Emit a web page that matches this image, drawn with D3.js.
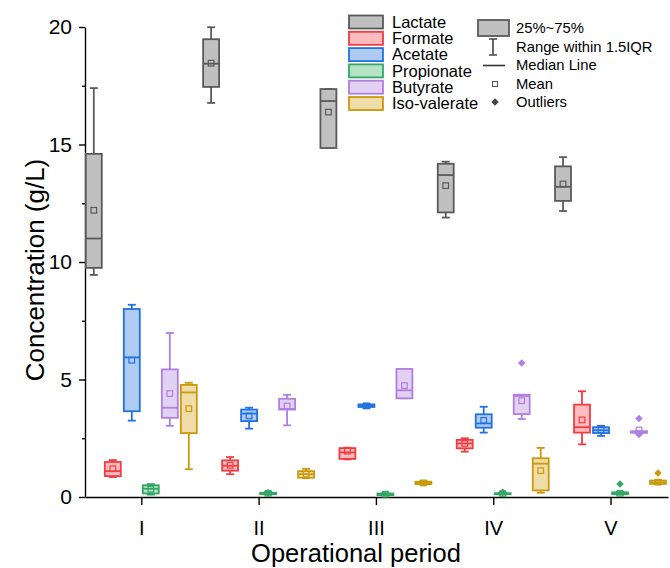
<!DOCTYPE html>
<html>
<head>
<meta charset="utf-8">
<script src="https://cdn.jsdelivr.net/npm/d3@7"></script>
<style>
  body { margin: 0; background: #fff; }
  svg { display: block; font-family: "Liberation Sans", Arial, sans-serif; }
</style>
</head>
<body>
<script>
// categories and series
const periods = ["I", "II", "III", "IV", "V"];
const seriesNames = ["Lactate", "Formate", "Acetate", "Propionate", "Butyrate", "Iso-valerate"];
const strokeColors = ["#5a5a5a", "#ee3d42", "#2272e0", "#33a866", "#b07fe2", "#c99a0c"];
const fillColors = ["#c0c0c0", "#ffbcbe", "#afcbf1", "#b6e2c6", "#e3d1f4", "#efdca8"];

// one row per period: [whiskerLow, q1, median, q3, whiskerHigh, mean]
const lactate = [
  [9.45, 9.75, 11.0, 14.6, 17.4, 12.2],
  [16.77, 17.45, 18.44, 19.48, 19.99, 18.46],
  [14.85, 14.85, 16.85, 17.36, 17.36, 16.38],
  [11.89, 12.11, 13.7, 14.18, 14.27, 13.25],
  [12.17, 12.6, 13.2, 14.07, 14.46, 13.32]
];
const formate = [
  [0.85, 0.89, 1.1, 1.49, 1.57, 1.2],
  [0.97, 1.12, 1.33, 1.56, 1.70, 1.35],
  [1.6, 1.62, 1.9, 2.08, 2.1, 1.95],
  [1.93, 2.07, 2.28, 2.43, 2.5, 2.28],
  [2.24, 2.74, 2.97, 3.93, 4.5, 3.28]
];
const acetate = [
  [3.25, 3.65, 5.94, 8.0, 8.18, 5.82],
  [2.91, 3.23, 3.55, 3.72, 3.80, 3.45],
  [3.78, 3.83, 3.89, 3.94, 3.96, 3.88],
  [2.74, 2.95, 3.13, 3.52, 3.84, 3.26],
  [2.6, 2.72, 2.84, 2.97, 3.03, 2.85]
];
const propionate = [
  [0.1, 0.15, 0.35, 0.5, 0.55, 0.33],
  [0.1, 0.12, 0.15, 0.18, 0.22, 0.15],
  [0.07, 0.08, 0.12, 0.15, 0.17, 0.12],
  [0.1, 0.12, 0.14, 0.16, 0.18, 0.14],
  [0.1, 0.12, 0.15, 0.2, 0.22, 0.15]
];
const butyrate = [
  [3.03, 3.37, 3.8, 5.43, 6.98, 4.4],
  [3.05, 3.72, 3.75, 4.18, 4.35, 3.87],
  [4.2, 4.2, 4.54, 5.45, 5.45, 4.74],
  [3.32, 3.53, 4.3, 4.35, 4.35, 4.1],
  [2.72, 2.73, 2.76, 2.8, 2.8, 2.85]
];
const isoValerate = [
  [1.18, 2.72, 4.45, 4.77, 4.86, 3.76],
  [0.8, 0.82, 0.97, 1.1, 1.2, 0.97],
  [0.52, 0.55, 0.6, 0.65, 0.68, 0.6],
  [0.18, 0.28, 1.42, 1.65, 2.09, 1.12],
  [0.55, 0.56, 0.62, 0.7, 0.72, 0.63]
];
const seriesData = [lactate, formate, acetate, propionate, butyrate, isoValerate];

// outliers: [seriesIndex, periodIndex, value]
const outliers = [
  [3, 1, 0.18], [3, 3, 0.2], [3, 4, 0.55],
  [4, 3, 5.70], [4, 4, 3.34], [4, 4, 2.66],
  [5, 4, 1.02]
];

const yTicks = [0, 5, 10, 15, 20];
const yMinorTicks = [2.5, 7.5, 12.5, 17.5];

const width = 670, height = 568;
const svg = d3.select("body").append("svg")
    .attr("width", width)
    .attr("height", height);

const x = d3.scaleLinear().domain([0.52, 5.49]).range([85, 668]);
const y = d3.scaleLinear().domain([0, 20]).range([497, 27]);
const offset = d3.scaleBand().domain(seriesNames).range([-57, 57]);
const boxW = offset.bandwidth() * 0.84;
const capW = 8;

// axes
svg.append("g")
    .attr("transform", `translate(${x(0.52)},0)`)
    .call(d3.axisLeft(y).tickValues(yTicks).tickSize(6).tickPadding(7).tickSizeOuter(0))
    .selectAll(".tick text").attr("font-size", 21);
svg.append("g")
    .attr("transform", `translate(${x(0.52)},0)`)
    .call(d3.axisLeft(y).tickValues(yMinorTicks).tickSize(3).tickFormat("").tickSizeOuter(0))
    .call(g => g.select(".domain").remove());

svg.append("g")
    .attr("transform", `translate(0,${y(0)})`)
    .call(d3.axisBottom(x).tickValues([1, 2, 3, 4, 5]).tickFormat(d => periods[d - 1])
        .tickSize(8).tickPadding(16).tickSizeOuter(0))
    .selectAll(".tick text").attr("font-size", 20);

svg.selectAll(".tick text").attr("font-family", "Liberation Sans, Arial, sans-serif").attr("fill", "#000");
svg.selectAll(".domain, .tick line").attr("stroke", "#000").attr("stroke-width", 1.4);

svg.append("text")
    .attr("x", 356).attr("y", 562)
    .attr("text-anchor", "middle")
    .attr("font-size", 25.5)
    .text("Operational period");

svg.append("text")
    .attr("transform", "translate(44,270) rotate(-90)")
    .attr("text-anchor", "middle")
    .attr("font-size", 26)
    .text("Concentration (g/L)");

// boxes
const plot = svg.append("g");
seriesData.forEach((rows, si) => {
    const stroke = strokeColors[si], fill = fillColors[si];
    rows.forEach((r, pi) => {
        const cx = x(pi + 1) + offset(seriesNames[si]) + offset.bandwidth() / 2;
        const [wl, q1, med, q3, wh, mean] = r;
        const g = plot.append("g");
        g.append("line").attr("x1", cx).attr("x2", cx).attr("y1", y(wh)).attr("y2", y(q3))
            .attr("stroke", stroke).attr("stroke-width", 1.8);
        g.append("line").attr("x1", cx).attr("x2", cx).attr("y1", y(q1)).attr("y2", y(wl))
            .attr("stroke", stroke).attr("stroke-width", 1.8);
        g.append("line").attr("x1", cx - capW / 2).attr("x2", cx + capW / 2).attr("y1", y(wh)).attr("y2", y(wh))
            .attr("stroke", stroke).attr("stroke-width", 1.8);
        g.append("line").attr("x1", cx - capW / 2).attr("x2", cx + capW / 2).attr("y1", y(wl)).attr("y2", y(wl))
            .attr("stroke", stroke).attr("stroke-width", 1.8);
        g.append("rect")
            .attr("x", cx - boxW / 2).attr("width", boxW)
            .attr("y", y(q3)).attr("height", Math.max(y(q1) - y(q3), 1))
            .attr("fill", fill).attr("stroke", stroke).attr("stroke-width", 1.8);
        g.append("line").attr("x1", cx - boxW / 2).attr("x2", cx + boxW / 2).attr("y1", y(med)).attr("y2", y(med))
            .attr("stroke", stroke).attr("stroke-width", 1.8);
        g.append("rect")
            .attr("x", cx - 2.8).attr("y", y(mean) - 2.8).attr("width", 5.6).attr("height", 5.6)
            .attr("fill", "none").attr("stroke", stroke).attr("stroke-width", 1.2);
    });
});

const diamond = d3.symbol().type(d3.symbolDiamond2).size(36);
plot.selectAll("path.outlier")
    .data(outliers)
    .join("path")
    .attr("class", "outlier")
    .attr("d", diamond)
    .attr("transform", d => `translate(${x(d[1] + 1) + offset(seriesNames[d[0]]) + offset.bandwidth() / 2},${y(d[2])})`)
    .attr("fill", d => strokeColors[d[0]]);

// series legend
const leg = svg.append("g").attr("font-size", 16.5);
seriesNames.forEach((name, i) => {
    const cy = 22 + i * 16.3;
    leg.append("rect").attr("x", 349).attr("y", cy - 6.5).attr("width", 34).attr("height", 13)
        .attr("fill", fillColors[i]).attr("stroke", strokeColors[i]).attr("stroke-width", 1.8);
    leg.append("text").attr("x", 392).attr("y", cy).attr("dy", "0.35em").text(name);
});

// statistic legend
const leg2 = svg.append("g").attr("font-size", 14.8);
const statLabels = ["25%~75%", "Range within 1.5IQR", "Median Line", "Mean", "Outliers"];
statLabels.forEach((t, i) => {
    leg2.append("text").attr("x", 516).attr("y", 28 + i * 18.5).attr("dy", "0.35em").text(t);
});
leg2.append("rect").attr("x", 478).attr("y", 20).attr("width", 31).attr("height", 16)
    .attr("fill", "#c0c0c0").attr("stroke", "#5a5a5a").attr("stroke-width", 1.8);
leg2.append("path").attr("d", "M489,39H497M493,39V55M489,55H497")
    .attr("fill", "none").attr("stroke", "#444").attr("stroke-width", 1.6);
leg2.append("line").attr("x1", 483).attr("x2", 505).attr("y1", 65.5).attr("y2", 65.5)
    .attr("stroke", "#333").attr("stroke-width", 1.6);
leg2.append("rect").attr("x", 492.5).attr("y", 81.5).attr("width", 5).attr("height", 5)
    .attr("fill", "none").attr("stroke", "#555").attr("stroke-width", 1.1);
leg2.append("path").attr("d", diamond).attr("transform", "translate(495,102)").attr("fill", "#444");
</script>
</body>
</html>
